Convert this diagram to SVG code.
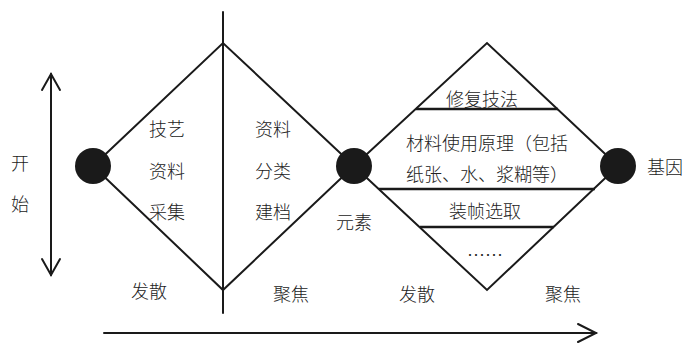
<svg xmlns="http://www.w3.org/2000/svg" width="682" height="346" viewBox="0 0 682 346">
<style>
.ln{stroke:#1a1a1a;stroke-width:2;fill:none;stroke-linecap:round;stroke-linejoin:miter}
.hl{stroke:#1a1a1a;stroke-width:2.5;fill:none}
.dot{fill:#1a1a1a}
text{font-family:"Noto Sans CJK SC","Noto Sans",sans-serif;font-size:18px;font-weight:300;fill:#222;text-anchor:middle;dominant-baseline:central}
</style>
<rect width="682" height="346" fill="#fff"/>
<g id="connectors">
<line class="ln" x1="223" y1="12" x2="223" y2="313"/>
<polyline class="ln" points="93,166 223,43 354,166 223,290 93,166"/>
<polyline class="ln" points="354,166 487,43 618,166 487,290 354,166"/>
<line class="hl" x1="416" y1="109" x2="558" y2="109"/>
<line class="hl" x1="379" y1="189" x2="595" y2="189"/>
<line class="hl" x1="420" y1="227" x2="554" y2="227"/>
<line class="ln" x1="51" y1="74" x2="51" y2="275"/>
<polyline class="ln" points="42,90 51,74 60,90"/>
<polyline class="ln" points="42,259 51,275 60,259"/>
<line class="ln" x1="104" y1="333" x2="596" y2="333"/>
<polyline class="ln" points="578,324 596,333 578,342"/>
</g>
<g id="n-start"><circle class="dot" cx="93" cy="166" r="18"/></g>
<g id="n-element"><circle class="dot" cx="354" cy="166" r="18"/><text x="354" y="221">元素</text></g>
<g id="n-gene"><circle class="dot" cx="618" cy="166" r="18"/><text x="647" y="166" style="text-anchor:start">基因</text></g>
<g id="lbl-start"><text x="20" y="162">开</text><text x="20" y="203">始</text></g>
<g id="d1-text"><text x="167" y="128">技艺</text><text x="167" y="170">资料</text><text x="167" y="211">采集</text></g>
<g id="d2-text"><text x="273" y="128">资料</text><text x="273" y="170">分类</text><text x="273" y="211">建档</text></g>
<g id="d3-text">
<text x="482" y="98">修复技法</text>
<text x="406" y="142" style="text-anchor:start">材料使用原理（包括</text>
<text x="406" y="173" style="text-anchor:start">纸张、水、浆糊等）</text>
<text x="485" y="210">装帧选取</text>
<text x="485" y="254">……</text>
</g>
<g id="phase-labels">
<text x="149" y="290">发散</text>
<text x="291" y="293">聚焦</text>
<text x="417" y="293">发散</text>
<text x="563" y="293">聚焦</text>
</g>
</svg>
